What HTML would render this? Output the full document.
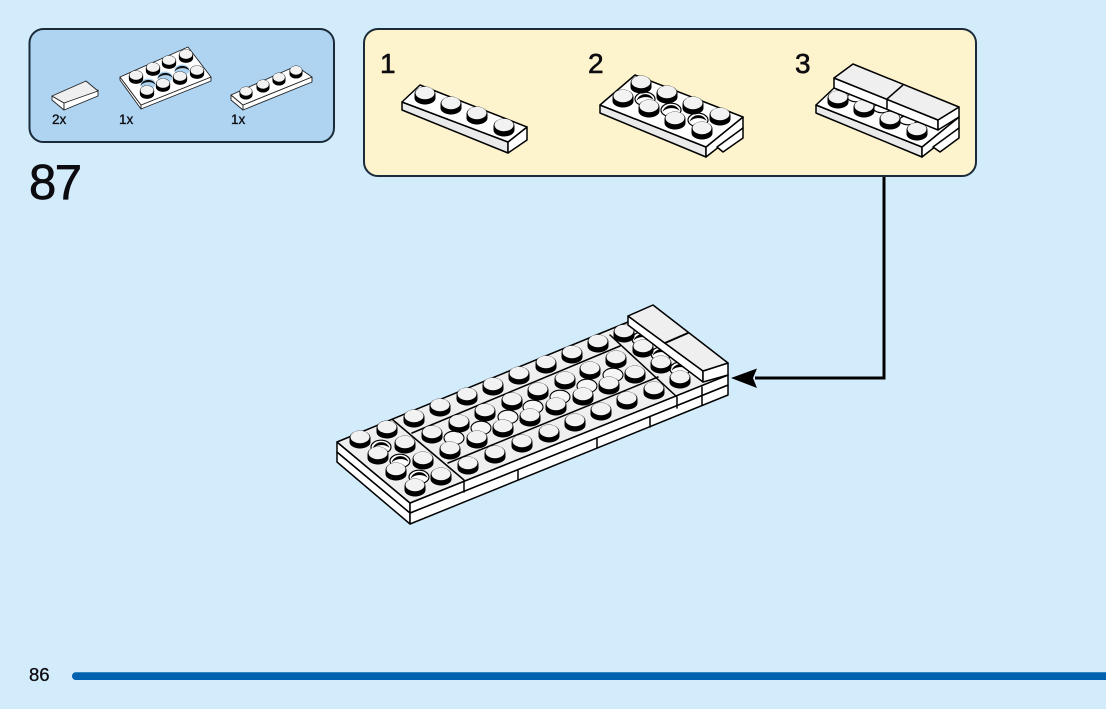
<!DOCTYPE html>
<html><head><meta charset="utf-8"><style>
html,body{margin:0;padding:0;background:#d3ecfc;width:1106px;height:709px;overflow:hidden}
svg{display:block}
text{font-family:"Liberation Sans",sans-serif;fill:#0c0c10;stroke:#0c0c10}
.l{fill:none;stroke:#000;stroke-width:1.5;stroke-linejoin:round;stroke-linecap:round}
.p{fill:#fff;stroke:#000;stroke-width:1.5;stroke-linejoin:round}
.t{fill:#efefef;stroke:#000;stroke-width:1.5;stroke-linejoin:round}
.s{fill:#fff;stroke:#222;stroke-width:.9;stroke-linejoin:round}
</style></head><body>
<svg width="1106" height="709" viewBox="0 0 1106 709" xmlns="http://www.w3.org/2000/svg">
<defs>
<g id="st"><path d="M-10.5,0 V4 C-10.5,8 -5,10.5 0,10.5 C5,10.5 10.5,8 10.5,4 V0 Z" fill="#000"/><ellipse cx="0" cy="0" rx="10.5" ry="7.5" fill="#000"/><ellipse cx="0" cy="-1" rx="9.5" ry="6.2" fill="#f2f2f2"/></g>
<g id="hl"><ellipse cx="0" cy="0" rx="10" ry="6.8" fill="#fff" stroke="#000" stroke-width="1.2"/><path d="M-8.5,2 C-5,-3 5,-3 8.5,1 C6,-7 -6,-7 -8.5,2 Z" fill="#000"/></g>
<g id="ho"><ellipse cx="0" cy="0" rx="10" ry="6.8" fill="#f6f6f6" stroke="#000" stroke-width="1.1"/></g>
<g id="hb"><ellipse cx="0" cy="0" rx="7.5" ry="5.5" fill="#aed4f2"/><path d="M-7.5,2 C-5,-3 5,-3 7.5,1 C6,-6 -6,-6 -7.5,2 Z" fill="#111"/></g>
</defs>

<rect x="29.5" y="29" width="304.5" height="113" rx="14" fill="#aed4f2" stroke="#1b2b3a" stroke-width="2"/>
<rect x="364" y="29" width="612" height="147" rx="14" fill="#fdf3cd" stroke="#1b2b3a" stroke-width="2"/>

<path d="M884,177 V378 H755" fill="none" stroke="#000" stroke-width="3"/>
<polygon points="731,378 757,368.5 753,378 757,388" fill="#000"/>

<text x="29" y="199" font-size="49" letter-spacing="-1.5" stroke-width=".7">87</text>
<text x="380" y="73" font-size="28" stroke-width=".6">1</text>
<text x="588" y="73" font-size="28" stroke-width=".6">2</text>
<text x="795" y="73" font-size="28" stroke-width=".6">3</text>
<text x="52" y="124" font-size="13.5" stroke-width=".3">2x</text>
<text x="119" y="124" font-size="13.5" stroke-width=".3">1x</text>
<text x="231" y="124" font-size="13.5" stroke-width=".3">1x</text>
<text x="29" y="681" font-size="18.5" stroke-width=".3">86</text>
<path d="M75.8,672.3 H1106 V680 H75.8 A3.85,3.85 0 0 1 75.8,672.3 Z" fill="#0062ae"/>

<!-- legend A -->
<polygon class="s" points="52,96 64,103 64,110 52,100"/>
<polygon class="s" points="64,103 98,90 98,96 64,110"/>
<polygon class="s" style="fill:#efefef" points="52,96 86,81 98,91 64,103"/>
<!-- legend B -->
<polygon class="s" points="120,77 141,105 141,109 120,80"/>
<polygon class="s" points="141,105 211,77 211,81 141,109"/>
<polygon class="s" points="120,77 188,47 211,77 141,105"/>
<use href="#hb" x="148" y="84"/><use href="#hb" x="165" y="77"/><use href="#hb" x="182" y="70"/>
<use href="#st" transform="translate(136 76) scale(.68 .75)"/><use href="#st" transform="translate(153 68) scale(.68 .75)"/><use href="#st" transform="translate(169 61) scale(.68 .75)"/><use href="#st" transform="translate(186 55) scale(.68 .75)"/>
<use href="#st" transform="translate(147 91) scale(.68 .75)"/><use href="#st" transform="translate(163 84) scale(.68 .75)"/><use href="#st" transform="translate(180 77) scale(.68 .75)"/><use href="#st" transform="translate(197 71) scale(.68 .75)"/>
<!-- legend C -->
<polygon class="s" points="231,95 243,105 243,110 231,100"/>
<polygon class="s" points="243,105 312,77 312,82 243,110"/>
<polygon class="s" points="231,95 296,66 312,77 243,105"/>
<use href="#st" transform="translate(246 92) scale(.62 .72)"/><use href="#st" transform="translate(263 85) scale(.62 .72)"/><use href="#st" transform="translate(279 78) scale(.62 .72)"/><use href="#st" transform="translate(296 71) scale(.62 .72)"/>

<!-- step 1 -->
<polygon class="p" style="fill:#eaeaea" points="402,102 508,142 508,153 402,110"/>
<polygon class="p" points="508,142 527,127 527,140 508,153"/>
<polygon class="p" points="402,102 420,85 527,127 508,142"/>
<use href="#st" x="425" y="94"/><use href="#st" x="451" y="104"/><use href="#st" x="477" y="114"/><use href="#st" x="504" y="126"/>

<!-- step 2 -->
<polygon class="p" style="fill:#eaeaea" points="600,105 706,147 706,157 600,113"/>
<polygon class="p" points="706,147 743,117 743,128 706,157"/>
<polygon class="p" points="743,128 743,138 723,152 717,147"/>
<polygon class="p" points="635,75 743,117 706,147 600,105"/>
<use href="#hl" x="645" y="99"/><use href="#hl" x="671" y="110"/><use href="#hl" x="698" y="120"/>
<use href="#st" x="641" y="83"/><use href="#st" x="667" y="93"/><use href="#st" x="693" y="104"/><use href="#st" x="720" y="115"/>
<use href="#st" x="623" y="97"/><use href="#st" x="649" y="107"/><use href="#st" x="675" y="119"/><use href="#st" x="702" y="129"/>

<!-- step 3 -->
<polygon class="p" style="fill:#eaeaea" points="816,105 922,147 922,157 816,113"/>
<polygon class="p" points="922,147 959,117 959,128 922,157"/>
<polygon class="p" points="959,128 959,138 940,152 933,147"/>
<polygon class="p" points="834,88 959,117 922,147 816,105"/>
<use href="#hl" x="856" y="95"/><use href="#hl" x="882" y="106"/><use href="#hl" x="908" y="118"/>
<use href="#st" x="838" y="98"/><use href="#st" x="864" y="107"/><use href="#st" x="890" y="119"/><use href="#st" x="917" y="130"/>
<polygon class="p" points="834,78 938,120 938,130 834,88"/>
<polygon class="p" points="938,120 959,107 959,117 938,130"/>
<polygon class="t" points="853,64 959,107 938,120 834,78"/>
<path class="l" d="M903,85 L887,99 V108"/>

<!-- main assembly -->
<polygon class="p" points="337,452 410,513 410,524 337,462"/>
<polygon class="p" points="410,513 728,385 728,395 410,524"/>
<polygon class="p" points="337,442 410,503 410,513 337,452"/>
<polygon class="p" points="410,503 728,375 728,385 410,513"/>
<polygon class="p" style="fill:#efefef" points="337,442 628,322 728,375 410,503"/>
<path class="l" d="M393,420 L464,480 V492 M412,433 L620,346 M448,463 L658,377 M610,335 L677,397 V408 M702,387 V405 M650,417 V427 M597,438 V448 M518,470 V480" />

<use href="#hl" x="381" y="447"/><use href="#hl" x="400" y="461"/><use href="#hl" x="419" y="477"/>
<use href="#ho" x="454" y="438"/><use href="#ho" x="481" y="428"/><use href="#ho" x="508" y="417"/><use href="#ho" x="533" y="407"/><use href="#ho" x="560" y="397"/><use href="#ho" x="587" y="386"/><use href="#ho" x="613" y="375"/>
<use href="#hl" x="642" y="339"/><use href="#hl" x="661" y="354"/><use href="#hl" x="680" y="369"/>

<g transform="translate(0 1)">
<use href="#st" x="360" y="437"/><use href="#st" x="387" y="427"/><use href="#st" x="414" y="416"/><use href="#st" x="440" y="405"/><use href="#st" x="467" y="394"/><use href="#st" x="493" y="384"/><use href="#st" x="519" y="373"/><use href="#st" x="546" y="362"/><use href="#st" x="572" y="352"/><use href="#st" x="598" y="341"/><use href="#st" x="624" y="331"/>
<use href="#st" x="378" y="453"/><use href="#st" x="405" y="442"/><use href="#st" x="432" y="432"/><use href="#st" x="459" y="421"/><use href="#st" x="485" y="410"/><use href="#st" x="512" y="399"/><use href="#st" x="538" y="389"/><use href="#st" x="565" y="378"/><use href="#st" x="590" y="368"/><use href="#st" x="616" y="357"/><use href="#st" x="643" y="346"/>
<use href="#st" x="396" y="469"/><use href="#st" x="423" y="458"/><use href="#st" x="450" y="448"/><use href="#st" x="477" y="437"/><use href="#st" x="503" y="426"/><use href="#st" x="530" y="415"/><use href="#st" x="556" y="404"/><use href="#st" x="583" y="394"/><use href="#st" x="609" y="383"/><use href="#st" x="635" y="372"/><use href="#st" x="661" y="362"/>
<use href="#st" x="415" y="485"/><use href="#st" x="441" y="474"/><use href="#st" x="468" y="463"/><use href="#st" x="495" y="452"/><use href="#st" x="522" y="441"/><use href="#st" x="549" y="431"/><use href="#st" x="575" y="420"/><use href="#st" x="601" y="409"/><use href="#st" x="627" y="398"/><use href="#st" x="654" y="388"/><use href="#st" x="680" y="377"/>
</g>

<polygon class="p" points="628,316 703,371 703,382 628,325"/>
<polygon class="p" points="703,371 728,363 728,375 703,382"/>
<polygon class="t" points="628,316 653,305 728,363 703,371"/>
<path class="l" d="M688,333 L665,343" style="stroke-width:2"/>
</svg>
</body></html>
